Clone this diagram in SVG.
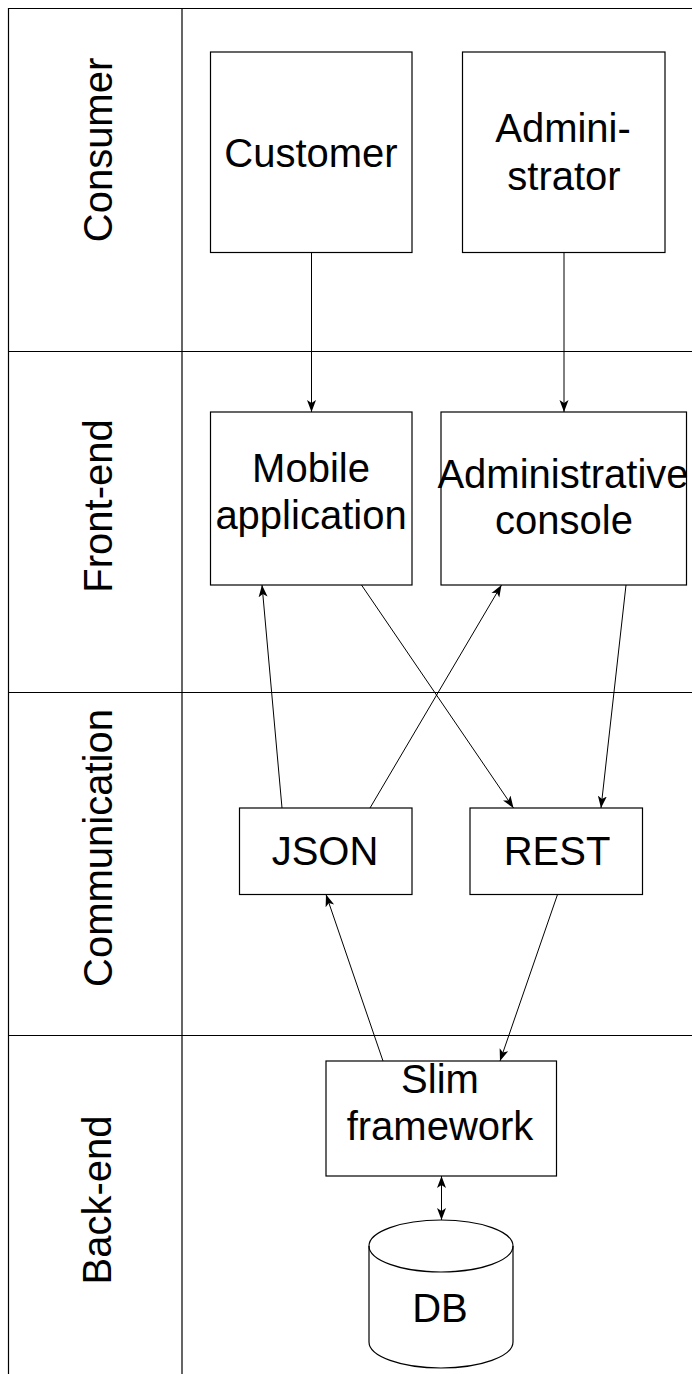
<svg xmlns="http://www.w3.org/2000/svg" width="692" height="1374" viewBox="0 0 692 1374">
<style>
.ln{stroke:#000;stroke-width:1.2;fill:none}
.box{stroke:#000;stroke-width:1.2;fill:#fff}
.t{font-family:"Liberation Sans",Arial,sans-serif;font-size:40px;fill:#000;text-anchor:middle}
.c{stroke:#000;stroke-width:1;fill:none;marker-end:url(#arr)}
</style>
<defs>
<marker id="arr" markerUnits="userSpaceOnUse" markerWidth="13" markerHeight="11" refX="12" refY="5.5" orient="auto-start-reverse">
<path d="M0,1 L12,5.5 L0,10 L3,5.5 Z" fill="#000"/>
</marker>
</defs>
<rect width="692" height="1374" fill="#fff"/>
<g id="lanes">
<path class="ln" d="M8.5,1374 L8.5,8.5 L692,8.5 M182,8.5 L182,1374 M8.5,351.5 L692,351.5 M8.5,692.5 L692,692.5 M8.5,1035.5 L692,1035.5"/>
<text class="t" transform="translate(112,150) rotate(-90)">Consumer</text>
<text class="t" transform="translate(112,506) rotate(-90)">Front-end</text>
<text class="t" transform="translate(112,848) rotate(-90)">Communication</text>
<text class="t" transform="translate(111,1200) rotate(-90)">Back-end</text>
</g>
<g id="customer">
<rect class="box" x="210.5" y="52" width="201.5" height="200.5"/>
<text class="t" x="311" y="167">Customer</text>
</g>
<g id="administrator">
<rect class="box" x="462.5" y="52" width="202.5" height="200.5"/>
<text class="t" x="563" y="142">Admini-</text>
<text class="t" x="564" y="190">strator</text>
</g>
<g id="mobile-application">
<rect class="box" x="210.5" y="412" width="201.5" height="173"/>
<text class="t" x="311" y="482">Mobile</text>
<text class="t" x="311" y="529">application</text>
</g>
<g id="administrative-console">
<rect class="box" x="441" y="412" width="245.5" height="173"/>
<text class="t" x="563" y="488">Administrative</text>
<text class="t" x="564" y="534">console</text>
</g>
<g id="json">
<rect class="box" x="239.5" y="808" width="172.5" height="86.5"/>
<text class="t" x="325" y="865">JSON</text>
</g>
<g id="rest">
<rect class="box" x="470" y="808" width="172.5" height="86.5"/>
<text class="t" x="557" y="865">REST</text>
</g>
<g id="slim-framework">
<rect class="box" x="326" y="1061" width="230.5" height="115"/>
<text class="t" x="440" y="1093">Slim</text>
<text class="t" x="440" y="1140">framework</text>
</g>
<g id="db">
<path class="box" d="M369,1246 A72,26 0 0,1 513,1246 L513,1342 A72,26 0 0,1 369,1342 Z"/>
<path class="ln" d="M369,1246 A72,26 0 0,0 513,1246"/>
<text class="t" x="440" y="1322">DB</text>
</g>
<g id="connectors">
<line class="c" x1="311.5" y1="252.5" x2="311.5" y2="412"/>
<line class="c" x1="564" y1="252.5" x2="564" y2="412"/>
<line class="c" x1="282" y1="808" x2="262" y2="585"/>
<line class="c" x1="370" y1="808" x2="501.5" y2="585"/>
<line class="c" x1="361.5" y1="585" x2="513.5" y2="808"/>
<line class="c" x1="626" y1="585" x2="601" y2="808"/>
<line class="c" x1="383" y1="1061" x2="326" y2="894.5"/>
<line class="c" x1="557.5" y1="894.5" x2="500" y2="1061"/>
<line class="c" x1="441.5" y1="1176" x2="441.5" y2="1220" marker-start="url(#arr)"/>
</g>
</svg>
